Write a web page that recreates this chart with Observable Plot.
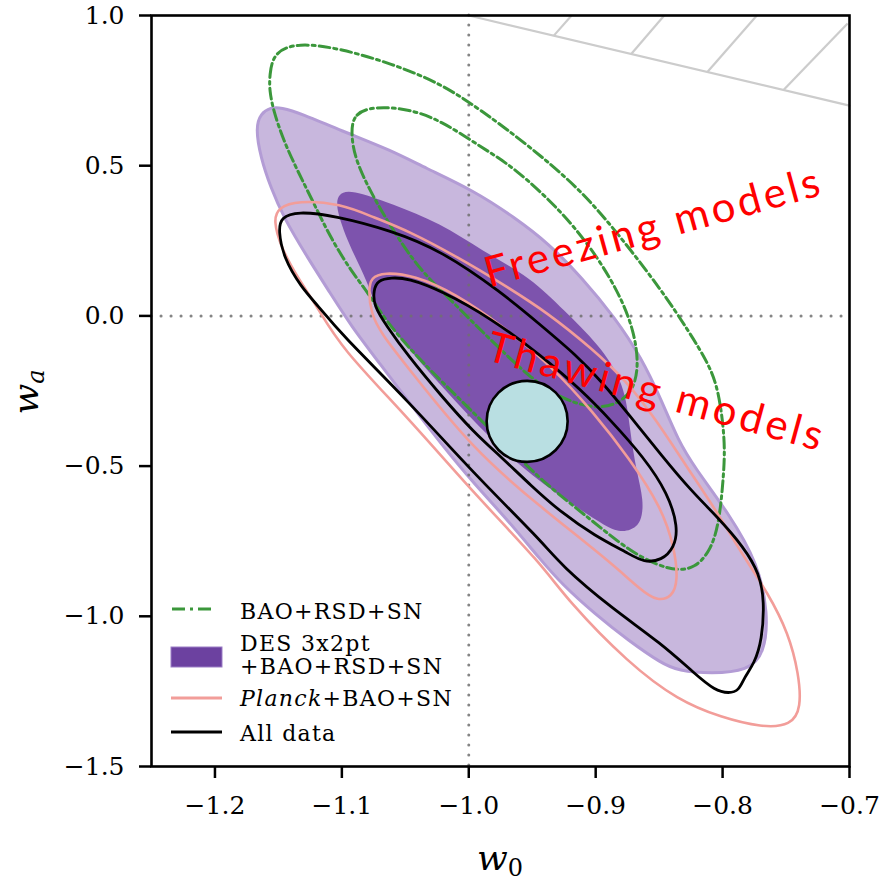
<!DOCTYPE html>
<html><head><meta charset="utf-8">
<script src="https://cdn.jsdelivr.net/npm/d3@7"></script>
<script src="https://cdn.jsdelivr.net/npm/@observablehq/plot@0.6"></script>
<style>html,body{margin:0;padding:0;background:#fff;}</style>
</head><body><div id="chart"></div>
<script>
// ---- axis ticks ----
const xTicks = [-1.2, -1.1, -1.0, -0.9, -0.8, -0.7];
const yTicks = [1.0, 0.5, 0.0, -0.5, -1.0, -1.5];

// ---- DES 3x2pt + BAO + RSD + SN, outer (95%) contour ----
const desOuterW0 = [-1.168,-1.164,-1.156,-1.148,-1.132,-1.101,-1.061,-1.035,-0.996,-0.964,-0.937,-0.911,-0.885,-0.864,-0.848,-0.835,-0.822,-0.795,-0.772,-0.764,-0.767,-0.780,-0.809,-0.835,-0.848,-0.874,-0.901,-0.927,-0.943,-0.969,-0.996,-1.022,-1.048,-1.069,-1.093,-1.109,-1.127,-1.146,-1.156,-1.164];
const desOuterWa = [0.627,0.674,0.694,0.694,0.674,0.617,0.551,0.494,0.417,0.328,0.241,0.128,-0.005,-0.139,-0.282,-0.415,-0.505,-0.658,-0.824,-0.991,-1.124,-1.181,-1.191,-1.181,-1.157,-1.081,-0.991,-0.891,-0.814,-0.681,-0.558,-0.425,-0.282,-0.165,-0.032,0.075,0.194,0.328,0.427,0.527];
// ---- DES inner (68%) contour ----
const desInnerW0 = [-1.105,-1.103,-1.093,-1.061,-1.022,-0.990,-0.951,-0.925,-0.898,-0.877,-0.873,-0.868,-0.862,-0.864,-0.872,-0.884,-0.903,-0.943,-0.982,-1.022,-1.053,-1.075,-1.079,-1.095];
const desInnerWa = [0.361,0.407,0.421,0.374,0.308,0.218,0.128,0.018,-0.092,-0.225,-0.382,-0.515,-0.615,-0.688,-0.714,-0.721,-0.671,-0.558,-0.415,-0.232,-0.082,0.041,0.108,0.241];
// ---- BAO+RSD+SN (green dash-dot) ----
const greenOuterW0 = [-1.157,-1.157,-1.154,-1.135,-1.101,-1.061,-1.022,-0.990,-0.951,-0.911,-0.880,-0.848,-0.827,-0.811,-0.803,-0.798,-0.799,-0.803,-0.811,-0.822,-0.835,-0.851,-0.874,-0.903,-0.943,-0.974,-1.006,-1.038,-1.064,-1.079,-1.093,-1.109,-1.122,-1.135,-1.146,-1.154];
const greenOuterWa = [0.750,0.800,0.877,0.910,0.890,0.840,0.774,0.684,0.561,0.417,0.261,0.085,-0.049,-0.159,-0.248,-0.415,-0.525,-0.704,-0.791,-0.838,-0.848,-0.831,-0.781,-0.681,-0.548,-0.415,-0.282,-0.149,-0.025,0.075,0.151,0.261,0.374,0.484,0.584,0.684];
const greenInnerW0 = [-1.093,-1.090,-1.075,-1.048,-1.022,-0.990,-0.964,-0.925,-0.898,-0.880,-0.870,-0.866,-0.870,-0.884,-0.903,-0.927,-0.951,-0.974,-0.996,-1.016,-1.038,-1.056,-1.069,-1.079,-1.090];
const greenInnerWa = [0.617,0.674,0.697,0.690,0.651,0.561,0.494,0.341,0.194,0.061,-0.049,-0.159,-0.248,-0.298,-0.308,-0.275,-0.208,-0.115,-0.025,0.061,0.151,0.261,0.351,0.427,0.527];
// ---- Planck+BAO+SN (pink) ----
const pinkOuterW0 = [-1.154,-1.150,-1.135,-1.101,-1.075,-1.048,-1.008,-0.974,-0.937,-0.903,-0.876,-0.852,-0.829,-0.805,-0.785,-0.764,-0.748,-0.740,-0.738,-0.746,-0.769,-0.801,-0.835,-0.874,-0.922,-0.943,-0.996,-1.048,-1.101,-1.119,-1.135,-1.148];
const pinkOuterWa = [0.318,0.361,0.384,0.374,0.328,0.284,0.194,0.108,0.008,-0.109,-0.215,-0.348,-0.498,-0.648,-0.791,-0.924,-1.057,-1.191,-1.304,-1.364,-1.370,-1.337,-1.280,-1.157,-0.948,-0.824,-0.591,-0.338,-0.105,0.028,0.128,0.228];
const pinkInnerW0 = [-1.079,-1.077,-1.067,-1.043,-1.011,-0.974,-0.935,-0.901,-0.874,-0.848,-0.838,-0.835,-0.840,-0.852,-0.864,-0.890,-0.943,-0.996,-1.048,-1.069,-1.077];
const pinkInnerWa = [0.085,0.128,0.145,0.135,0.075,-0.032,-0.165,-0.325,-0.471,-0.638,-0.771,-0.881,-0.938,-0.948,-0.914,-0.814,-0.638,-0.448,-0.172,-0.059,0.008];
// ---- All data (black) ----
const blackOuterW0 = [-1.150,-1.148,-1.135,-1.106,-1.061,-1.022,-0.974,-0.943,-0.915,-0.896,-0.872,-0.848,-0.825,-0.805,-0.783,-0.771,-0.767,-0.769,-0.775,-0.783,-0.787,-0.795,-0.806,-0.822,-0.848,-0.888,-0.927,-0.943,-0.996,-1.048,-1.101,-1.119,-1.132,-1.146];
const blackOuterWa = [0.284,0.328,0.348,0.334,0.284,0.218,0.078,-0.032,-0.132,-0.215,-0.338,-0.465,-0.581,-0.665,-0.771,-0.858,-0.948,-1.081,-1.157,-1.204,-1.247,-1.257,-1.247,-1.191,-1.091,-0.971,-0.831,-0.748,-0.525,-0.282,-0.059,0.035,0.095,0.194];
const blackInnerW0 = [-1.075,-1.072,-1.061,-1.048,-1.022,-0.982,-0.943,-0.911,-0.888,-0.862,-0.843,-0.835,-0.838,-0.848,-0.862,-0.874,-0.901,-0.927,-0.951,-0.974,-0.996,-1.022,-1.048,-1.065,-1.075];
const blackInnerWa = [0.085,0.118,0.128,0.125,0.085,-0.009,-0.132,-0.248,-0.348,-0.471,-0.591,-0.704,-0.771,-0.814,-0.821,-0.791,-0.731,-0.655,-0.565,-0.471,-0.388,-0.265,-0.132,-0.032,0.035];
// ---- best-fit marker ----
const markerW0 = [-0.954];
const markerWa = [-0.351];
// ---- excluded region w0+wa>0 (hatched) ----
const boundaryW0 = [-1.0, -0.7];
const boundaryWa = [1.0, 0.7];
const hatchW0a = [-0.933, -0.872, -0.812, -0.752];
const hatchWaa = [0.933, 0.872, 0.812, 0.752];
const hatchW0b = [-0.919, -0.846, -0.773, -0.7015];
const hatchWab = [1.0, 1.0, 1.0, 0.973];
// ---- annotations ----
const annoText = ["Freezing models", "Thawing models"];
const annoW0 = [-0.8556, -0.8534];
const annoWa = [0.292, -0.254];
const annoAngle = [-15.5, 15.3];
// ---- legend ----
const legendLabels = ["BAO+RSD+SN", "DES 3x2pt|+BAO+RSD+SN", "Planck+BAO+SN", "All data"];

const pts = (a, b) => a.map((v, i) => ({w0: v, wa: b[i]}));
const hatch = hatchW0a.map((v, i) => ({x1: v, y1: hatchWaa[i], x2: hatchW0b[i], y2: hatchWab[i]}));
const anno = annoText.map((t, i) => ({t, w0: annoW0[i], wa: annoWa[i], a: annoAngle[i]}));

const GREEN = "#3b973b", PINK = "#f29d99", LIGHT = "#c8b7dd", LIGHTEDGE = "#b39cd5", DARK = "#7d53ad";
const dashdot = "11,4,3,4";
const closed = "basis-closed";

const svg = Plot.plot({
  width: 886, height: 884,
  marginLeft: 151, marginRight: 37, marginTop: 15, marginBottom: 118,
  x: {domain: [-1.25, -0.7]},
  y: {domain: [-1.5, 1.0]},
  style: {fontFamily: "'DejaVu Serif', serif", fontSize: "25px", color: "black", background: "white"},
  marks: [
    Plot.line(pts(boundaryW0, boundaryWa), {x: "w0", y: "wa", stroke: "#cccccc", strokeWidth: 2.2}),
    Plot.link(hatch, {x1: "x1", y1: "y1", x2: "x2", y2: "y2", stroke: "#cccccc", strokeWidth: 2.2, clip: true}),
    Plot.line(pts(desOuterW0, desOuterWa), {x: "w0", y: "wa", curve: closed, fill: LIGHT, stroke: LIGHTEDGE, strokeWidth: 3}),
    Plot.line(pts(desInnerW0, desInnerWa), {x: "w0", y: "wa", curve: closed, fill: DARK, stroke: "none"}),
    Plot.ruleX([-1.0], {stroke: "#707070", strokeWidth: 3, strokeDasharray: "0.1,9.9", strokeLinecap: "round", strokeOpacity: 0.85}),
    Plot.ruleY([0.0], {stroke: "#707070", strokeWidth: 3, strokeDasharray: "0.1,9.9", strokeLinecap: "round", strokeOpacity: 0.85}),
    Plot.line(pts(greenOuterW0, greenOuterWa), {x: "w0", y: "wa", curve: closed, stroke: GREEN, strokeWidth: 3, strokeDasharray: dashdot}),
    Plot.line(pts(greenInnerW0, greenInnerWa), {x: "w0", y: "wa", curve: closed, stroke: GREEN, strokeWidth: 3, strokeDasharray: dashdot}),
    Plot.line(pts(pinkOuterW0, pinkOuterWa), {x: "w0", y: "wa", curve: closed, stroke: PINK, strokeWidth: 2.6}),
    Plot.line(pts(pinkInnerW0, pinkInnerWa), {x: "w0", y: "wa", curve: closed, stroke: PINK, strokeWidth: 2.6}),
    Plot.line(pts(blackOuterW0, blackOuterWa), {x: "w0", y: "wa", curve: closed, stroke: "black", strokeWidth: 2.8}),
    Plot.line(pts(blackInnerW0, blackInnerWa), {x: "w0", y: "wa", curve: closed, stroke: "black", strokeWidth: 2.8}),
    Plot.dot(pts(markerW0, markerWa), {x: "w0", y: "wa", r: 40.5, fill: "#b9dfe2", stroke: "black", strokeWidth: 2.6}),
    Plot.text(anno, {x: "w0", y: "wa", text: "t", rotate: "a", fill: "#ff0000", fontSize: 42, fontFamily: "Lato", textAnchor: "middle", lineAnchor: "middle", className: "anno"}),
    Plot.frame({stroke: "black", strokeWidth: 2.6}),
    Plot.axisX(xTicks, {tickSize: 12, tickPadding: 18, strokeWidth: 2.5, tickFormat: d3.format(".1f"), label: null, fontSize: 25}),
    Plot.axisY(yTicks, {tickSize: 12, tickPadding: 15, strokeWidth: 2.5, tickFormat: d3.format(".1f"), label: null, fontSize: 25})
  ]
});
document.getElementById("chart").appendChild(svg);

const s = d3.select(svg);
s.selectAll(".anno text").attr("textLength", 346).attr("lengthAdjust", "spacing");

// axis titles with subscripts
const xl = s.append("text").attr("x", 500).attr("y", 870).attr("text-anchor", "middle")
  .style("font-family", "'DejaVu Serif', serif").style("font-size", "36px");
xl.append("tspan").style("font-style", "italic").text("w");
xl.append("tspan").attr("dy", 6).style("font-size", "24px").text("0");
const yl = s.append("text").attr("transform", "translate(38,392) rotate(-90)").attr("text-anchor", "middle")
  .style("font-family", "'DejaVu Serif', serif").style("font-size", "36px");
yl.append("tspan").style("font-style", "italic").text("w");
yl.append("tspan").attr("dy", 6).style("font-size", "24px").style("font-style", "italic").text("a");

// legend
const lg = s.append("g").attr("text-anchor", "start").style("font-family", "'DejaVu Serif', serif").style("font-size", "22px").style("letter-spacing", "1.3px");
lg.append("line").attr("x1", 172).attr("x2", 216).attr("y1", 609).attr("y2", 609).attr("stroke", GREEN).attr("stroke-width", 3).attr("stroke-dasharray", "13,5,3,5");
lg.append("text").attr("x", 240).attr("y", 619).text(legendLabels[0]);
lg.append("rect").attr("x", 171).attr("y", 647).attr("width", 51).attr("height", 20).attr("fill", "#6c41a0").attr("stroke", "#9b7fc6").attr("stroke-width", 1);
const parts = legendLabels[1].split("|");
lg.append("text").attr("x", 240).attr("y", 651).text(parts[0]);
lg.append("text").attr("x", 240).attr("y", 674).text(parts[1]);
lg.append("line").attr("x1", 171).attr("x2", 222).attr("y1", 698).attr("y2", 698).attr("stroke", PINK).attr("stroke-width", 3);
const pl = lg.append("text").attr("x", 240).attr("y", 706);
pl.append("tspan").style("font-style", "italic").text(legendLabels[2].slice(0, 6));
pl.append("tspan").text(legendLabels[2].slice(6));
lg.append("line").attr("x1", 171).attr("x2", 222).attr("y1", 732).attr("y2", 732).attr("stroke", "black").attr("stroke-width", 3.2);
lg.append("text").attr("x", 240).attr("y", 741).text(legendLabels[3]);
</script>
</body></html>
